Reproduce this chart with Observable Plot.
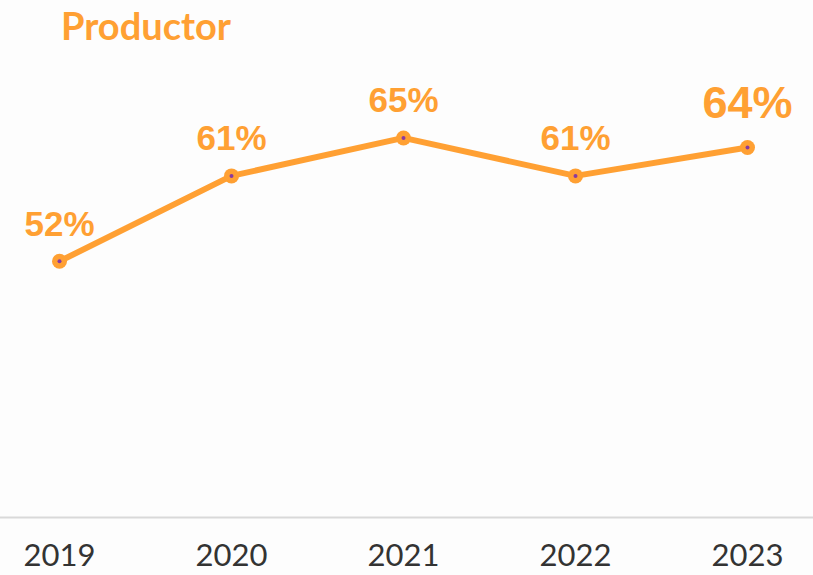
<!DOCTYPE html>
<html>
<head>
<meta charset="utf-8">
<script src="https://cdn.jsdelivr.net/npm/d3@7"></script>
<script src="https://cdn.jsdelivr.net/npm/@observablehq/plot@0.6"></script>
<style>
  html, body { margin: 0; padding: 0; background: #fdfdfd; }
  #wrap { width: 813px; height: 575px; overflow: hidden; }
  #title { height: 50px; margin: 0; padding: 0 0 0 61px; box-sizing: border-box;
    font-family: Lato, sans-serif; font-weight: bold; font-size: 38px; line-height: 50px; color: #FFA033; }
</style>
</head>
<body>
<div id="wrap">
  <div id="title">Productor</div>
  <div id="chart"></div>
</div>
<script>
const years = ["2019", "2020", "2021", "2022", "2023"];
const values = [52, 61, 65, 61, 64];
const labels = ["52%", "61%", "65%", "61%", "64%"];

const data = years.map((y, i) => ({year: y, value: values[i], label: labels[i], last: i === years.length - 1}));
const orange = "#FFA033";

const chart = Plot.plot({
  width: 813,
  height: 525,
  marginLeft: 58,
  marginRight: 65,
  marginTop: 40,
  marginBottom: 58,
  style: {background: "transparent", overflow: "visible"},
  x: {type: "point", domain: years, padding: 0, label: null},
  y: {domain: [25, 70], axis: null},
  marks: [
    Plot.ruleY([25], {stroke: "#d9d9d9", strokeWidth: 2, insetLeft: -58, insetRight: -65}),
    Plot.axisX({tickSize: 0, tickPadding: 26, fontSize: 31, fontFamily: "Lato, sans-serif", fill: "#333", label: null}),
    Plot.line(data, {x: "year", y: "value", stroke: orange, strokeWidth: 6, strokeLinejoin: "round"}),
    Plot.dot(data, {x: "year", y: "value", r: 7.5, fill: orange, stroke: "none"}),
    Plot.dot(data, {x: "year", y: "value", r: 2, fill: "#8B3A9E", stroke: "none"}),
    Plot.text(data.filter(d => !d.last), {x: "year", y: "value", text: "label", dy: -37, fontSize: 35, fontWeight: "bold", fontFamily: "Liberation Sans, Arial, sans-serif", fill: orange}),
    Plot.text(data.filter(d => d.last), {x: "year", y: "value", text: "label", dy: -44, fontSize: 45, fontWeight: "bold", fontFamily: "Liberation Sans, Arial, sans-serif", fill: orange})
  ]
});
document.getElementById("chart").appendChild(chart);
</script>
</body>
</html>
